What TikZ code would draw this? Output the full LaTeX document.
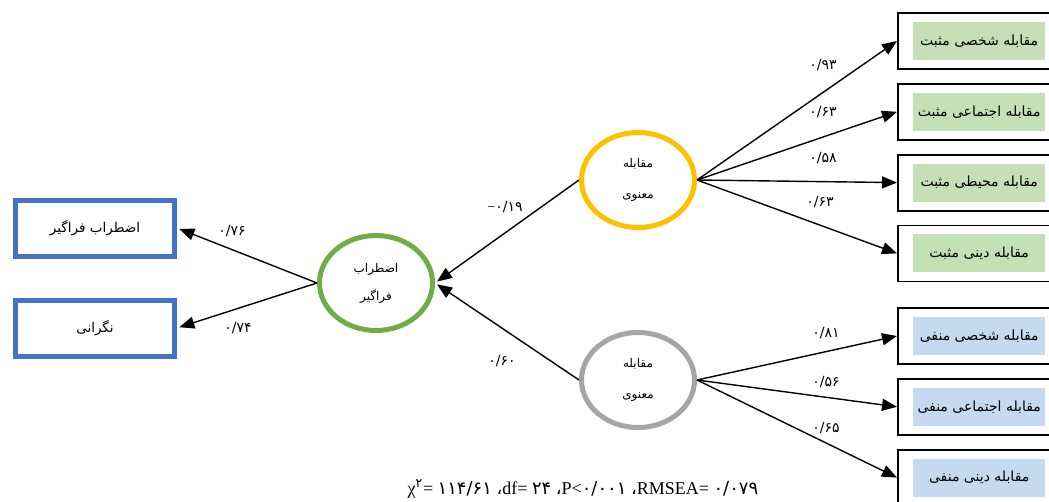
\documentclass[tikz,border=0pt]{standalone}
\usepackage{fontspec}
\setmainfont{Liberation Serif}
\newfontfamily\fa[Script=Arabic]{DejaVu Sans}
\TeXXeTstate=1
\newcommand{\fatxt}[1]{{\fa\beginR #1\endR}}
\usetikzlibrary{positioning,arrows.meta,shapes.geometric}
\definecolor{blueline}{HTML}{4472C4}
\definecolor{greenline}{HTML}{70AD47}
\definecolor{yellowline}{HTML}{FFC000}
\definecolor{greyline}{HTML}{A5A5A5}
\definecolor{greenfill}{HTML}{C5E0B4}
\definecolor{bluefill}{HTML}{C5D9F1}

\begin{document}
\begin{tikzpicture}[x=1pt,y=-1pt,
  leftbox/.style={rectangle, draw=blueline, line width=5pt, minimum width=159pt, minimum height=56pt, font=\fontsize{13.5}{15}\selectfont},
  latent/.style={ellipse, line width=5pt, minimum width=113pt, minimum height=95pt, inner sep=0pt, align=center, font=\fontsize{12}{28}\selectfont},
  outbox/.style={rectangle, draw=black, line width=1.8pt, minimum width=170pt, minimum height=56pt, anchor=west},
  inbox/.style={rectangle, inner sep=0pt, minimum width=132pt, minimum height=38pt, font=\fontsize{14}{16}\selectfont},
  coef/.style={font=\fontsize{14}{16}\selectfont\fa, inner sep=1pt},
  arr/.style={-{Triangle[length=15pt,width=12pt]}, line width=1.4pt}]

  \useasboundingbox (0,0) rectangle (1049,501);
  \fill[white] (0,0) rectangle (1049,501);
  \clip (0,0) rectangle (1049,501);

  % latent variables
  \node[latent, draw=greenline] (g) at (376,283) {\fatxt{اضطراب}\\\fatxt{فراگیر}};
  \node[latent, draw=yellowline, font=\fontsize{12}{31}\selectfont] (y) at (638,180) {\fatxt{مقابله}\\\fatxt{معنوی}};
  \node[latent, draw=greyline, font=\fontsize{12}{31}\selectfont] (s) at (638,380) {\fatxt{مقابله}\\\fatxt{معنوی}};

  % left indicators
  \node[leftbox] (a1) at (95,228) {\fatxt{اضطراب فراگیر}};
  \node[leftbox] (a2) at (95,328) {\fatxt{نگرانی}};

  % right indicators, positive
  \node[outbox] (p1) at (897,41) {};
  \node[outbox] (p2) [below=13pt of p1.south west, anchor=north west] {};
  \node[outbox] (p3) [below=13pt of p2.south west, anchor=north west] {};
  \node[outbox] (p4) [below=13pt of p3.south west, anchor=north west] {};
  \node[inbox, fill=greenfill] (t1) [right=16pt of p1.west] {\fatxt{مقابله شخصی مثبت}};
  \node[inbox, fill=greenfill] (t2) [right=16pt of p2.west] {\fatxt{مقابله اجتماعی مثبت}};
  \node[inbox, fill=greenfill] (t3) [right=16pt of p3.west] {\fatxt{مقابله محیطی مثبت}};
  \node[inbox, fill=greenfill] (t4) [right=16pt of p4.west] {\fatxt{مقابله دینی مثبت}};

  % right indicators, negative
  \node[outbox] (n1) at (897,336) {};
  \node[outbox] (n2) [below=13pt of n1.south west, anchor=north west] {};
  \node[outbox] (n3) [below=13pt of n2.south west, anchor=north west] {};
  \node[inbox, fill=bluefill] (u1) [right=16pt of n1.west] {\fatxt{مقابله شخصی منفی}};
  \node[inbox, fill=bluefill] (u2) [right=16pt of n2.west] {\fatxt{مقابله اجتماعی منفی}};
  \node[inbox, fill=bluefill] (u3) [right=16pt of n3.west] {\fatxt{مقابله دینی منفی}};

  % paths
  \draw[arr, shorten >=2.5pt] (g.west) -- (a1.east);
  \draw[arr, shorten >=2.5pt] (g.west) -- (a2.east);
  \draw[arr, shorten >=2.5pt] (y.west) -- (g.east);
  \draw[arr, shorten >=2.5pt] (s.west) -- (g.east);
  \foreach \b in {p1,p2,p3,p4}
    \draw[arr] (y.east) -- (\b.west);
  \foreach \b in {n1,n2,n3}
    \draw[arr] (s.east) -- (\b.west);

  % coefficients
  \node[coef] (c1) at (232,231) {۰/۷۶};
  \node[coef] (c2) at (238,328) {۰/۷۴};
  \node[coef] (c3) at (505,207) {{\rmfamily −}۰/۱۹};
  \node[coef] (c4) at (502,361) {۰/۶۰};
  \node[coef] (c5) at (823,65) {۰/۹۳};
  \node[coef] (c6) at (823,112) {۰/۶۳};
  \node[coef] (c7) at (823,158) {۰/۵۸};
  \node[coef] (c8) at (820,202) {۰/۶۳};
  \node[coef] (c9) at (826,333) {۰/۸۱};
  \node[coef] (c10) at (826,382) {۰/۵۶};
  \node[coef] (c11) at (826,428) {۰/۶۵};

  % fit indices
  \node[font=\fontsize{18}{20}\selectfont] (fit) at (583,489) {χ\textsuperscript{\fa ۲}= {\fa ۱۱۴/۶۱} {\fa ،}df= {\fa ۲۴} {\fa ،}P<{\fa ۰/۰۰۱} {\fa ،}RMSEA= {\fa ۰/۰۷۹}};
\end{tikzpicture}
\end{document}
